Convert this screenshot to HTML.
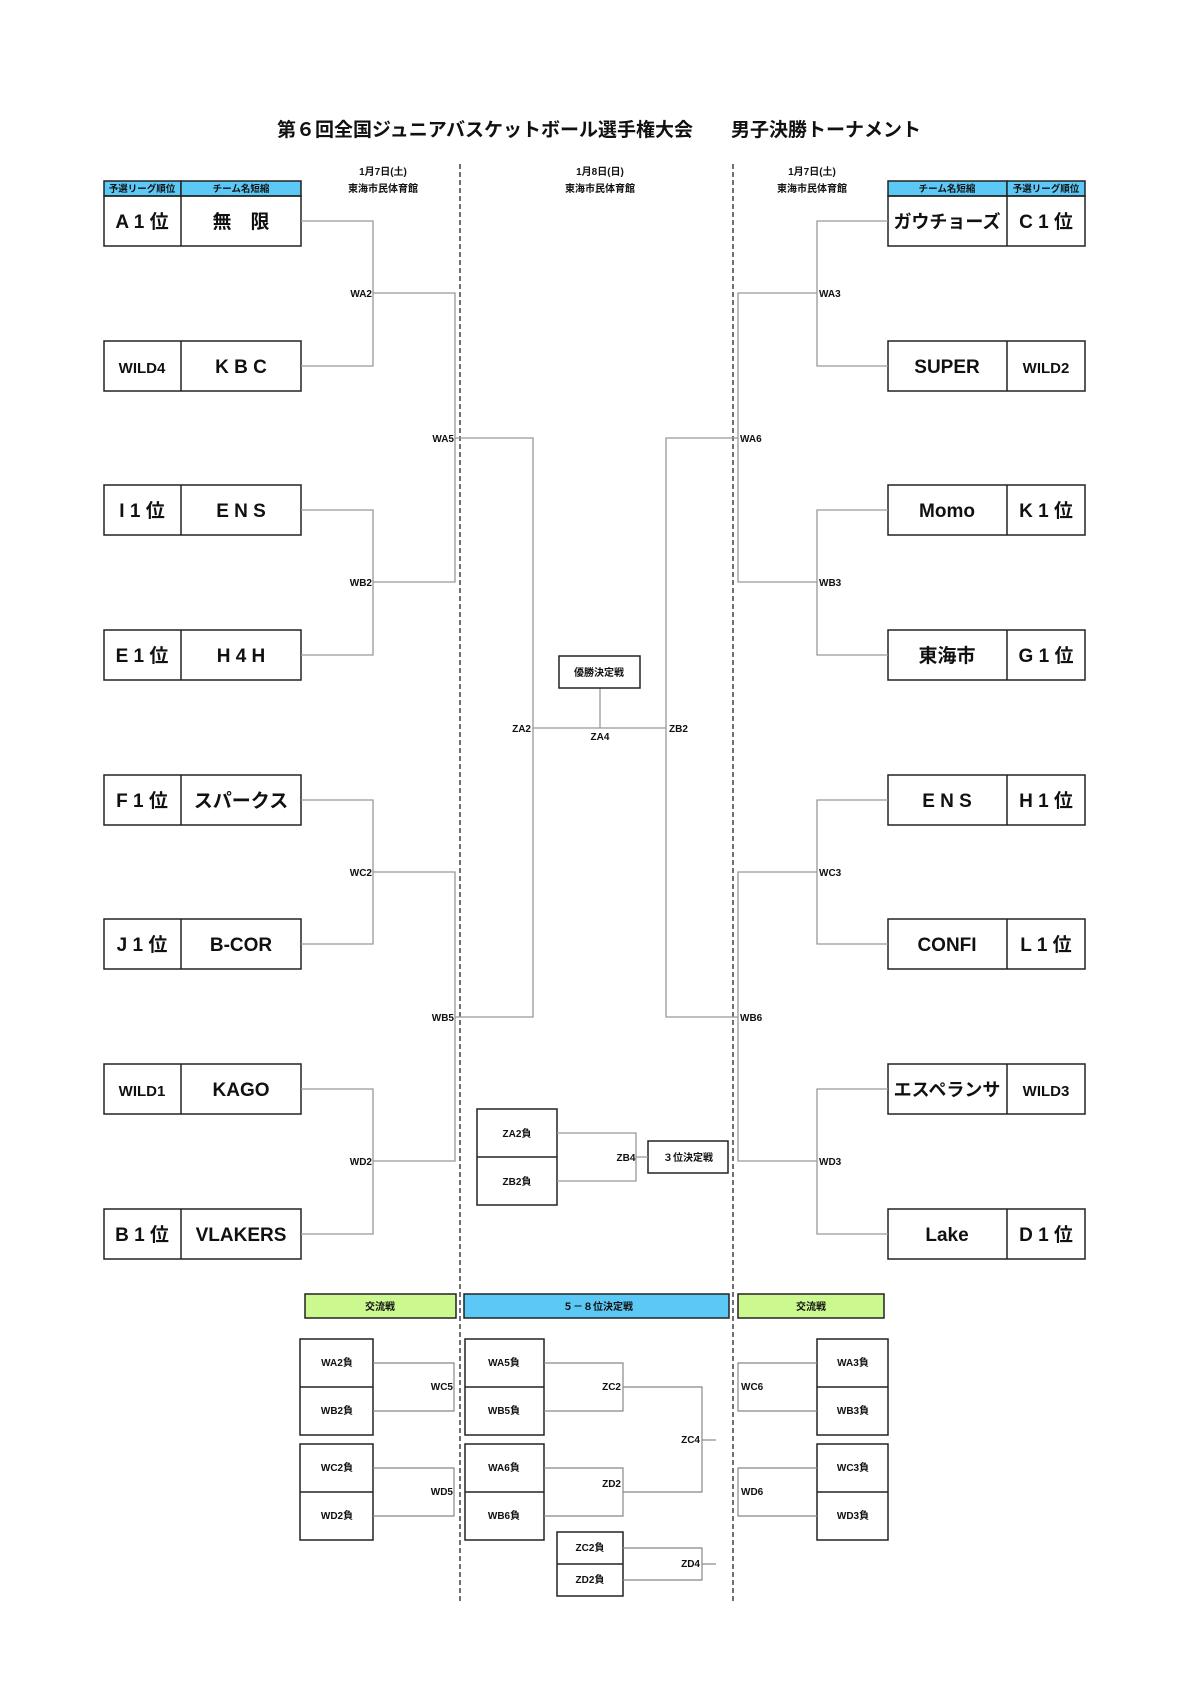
<!DOCTYPE html>
<html><head><meta charset="utf-8"><style>
html,body{margin:0;padding:0;background:#fff;}
svg{display:block;font-family:"Liberation Sans","Noto Sans CJK JP",sans-serif;font-weight:bold;}
</style></head><body>
<svg width="1190" height="1684" viewBox="0 0 1190 1684" xmlns="http://www.w3.org/2000/svg">
<text x="599" y="136" font-size="19" text-anchor="middle" fill="#111">第６回全国ジュニアバスケットボール選手権大会　　男子決勝トーナメント</text>
<g font-size="10" text-anchor="middle" fill="#111">
<text x="383" y="175">1月7日(土)</text><text x="383" y="192">東海市民体育館</text>
<text x="600" y="175">1月8日(日)</text><text x="600" y="192">東海市民体育館</text>
<text x="812" y="175">1月7日(土)</text><text x="812" y="192">東海市民体育館</text>
</g>
<g stroke="#222" stroke-width="1.3" stroke-dasharray="5,3">
<line x1="460" y1="164" x2="460" y2="1604"/><line x1="733" y1="164" x2="733" y2="1604"/>
</g>
<g stroke="#222" stroke-width="1.5">
<rect x="104" y="181" width="77" height="15" fill="#5bc8f5"/><rect x="181" y="181" width="120" height="15" fill="#5bc8f5"/>
<rect x="888" y="181" width="119" height="15" fill="#5bc8f5"/><rect x="1007" y="181" width="78" height="15" fill="#5bc8f5"/>
</g>
<g font-size="9.5" text-anchor="middle" fill="#111">
<text x="142" y="192">予選リーグ順位</text><text x="241" y="192">チーム名短縮</text>
<text x="947" y="192">チーム名短縮</text><text x="1046" y="192">予選リーグ順位</text>
</g>
<g stroke="#222" stroke-width="1.5" fill="none">
<rect x="104" y="196" width="197" height="50"/><line x1="181" y1="196" x2="181" y2="246"/>
<rect x="104" y="341" width="197" height="50"/><line x1="181" y1="341" x2="181" y2="391"/>
<rect x="104" y="485" width="197" height="50"/><line x1="181" y1="485" x2="181" y2="535"/>
<rect x="104" y="630" width="197" height="50"/><line x1="181" y1="630" x2="181" y2="680"/>
<rect x="104" y="775" width="197" height="50"/><line x1="181" y1="775" x2="181" y2="825"/>
<rect x="104" y="919" width="197" height="50"/><line x1="181" y1="919" x2="181" y2="969"/>
<rect x="104" y="1064" width="197" height="50"/><line x1="181" y1="1064" x2="181" y2="1114"/>
<rect x="104" y="1209" width="197" height="50"/><line x1="181" y1="1209" x2="181" y2="1259"/>
<rect x="888" y="196" width="197" height="50"/><line x1="1007" y1="196" x2="1007" y2="246"/>
<rect x="888" y="341" width="197" height="50"/><line x1="1007" y1="341" x2="1007" y2="391"/>
<rect x="888" y="485" width="197" height="50"/><line x1="1007" y1="485" x2="1007" y2="535"/>
<rect x="888" y="630" width="197" height="50"/><line x1="1007" y1="630" x2="1007" y2="680"/>
<rect x="888" y="775" width="197" height="50"/><line x1="1007" y1="775" x2="1007" y2="825"/>
<rect x="888" y="919" width="197" height="50"/><line x1="1007" y1="919" x2="1007" y2="969"/>
<rect x="888" y="1064" width="197" height="50"/><line x1="1007" y1="1064" x2="1007" y2="1114"/>
<rect x="888" y="1209" width="197" height="50"/><line x1="1007" y1="1209" x2="1007" y2="1259"/>
</g>
<g font-size="19" text-anchor="middle" fill="#111">
<text x="142" y="228">A 1 位</text><text x="241" y="228">無　限</text>
<text x="142" y="373" font-size="15">WILD4</text><text x="241" y="373">K B C</text>
<text x="142" y="517">I 1 位</text><text x="241" y="517">E N S</text>
<text x="142" y="662">E 1 位</text><text x="241" y="662">H 4 H</text>
<text x="142" y="807">F 1 位</text><text x="241" y="807">スパークス</text>
<text x="142" y="951">J 1 位</text><text x="241" y="951">B-COR</text>
<text x="142" y="1096" font-size="15">WILD1</text><text x="241" y="1096">KAGO</text>
<text x="142" y="1241">B 1 位</text><text x="241" y="1241">VLAKERS</text>
<text x="947" y="228" font-size="18">ガウチョーズ</text><text x="1046" y="228">C 1 位</text>
<text x="947" y="373">SUPER</text><text x="1046" y="373" font-size="15">WILD2</text>
<text x="947" y="517">Momo</text><text x="1046" y="517">K 1 位</text>
<text x="947" y="662">東海市</text><text x="1046" y="662">G 1 位</text>
<text x="947" y="807">E N S</text><text x="1046" y="807">H 1 位</text>
<text x="947" y="951">CONFI</text><text x="1046" y="951">L 1 位</text>
<text x="947" y="1096" font-size="18">エスペランサ</text><text x="1046" y="1096" font-size="15">WILD3</text>
<text x="947" y="1241">Lake</text><text x="1046" y="1241">D 1 位</text>
</g>
<g stroke="#999" stroke-width="1.3" fill="none">
<polyline points="301,221 373,221 373,366 301,366"/>
<polyline points="301,510 373,510 373,655 301,655"/>
<polyline points="301,800 373,800 373,944 301,944"/>
<polyline points="301,1089 373,1089 373,1234 301,1234"/>
<polyline points="373,293 455,293 455,582 373,582"/>
<polyline points="373,872 455,872 455,1161 373,1161"/>
<polyline points="455,438 533,438 533,1017 455,1017"/>
<line x1="533" y1="728" x2="666" y2="728"/>
<polyline points="888,221 817,221 817,366 888,366"/>
<polyline points="888,510 817,510 817,655 888,655"/>
<polyline points="888,800 817,800 817,944 888,944"/>
<polyline points="888,1089 817,1089 817,1234 888,1234"/>
<polyline points="817,293 738,293 738,582 817,582"/>
<polyline points="817,872 738,872 738,1161 817,1161"/>
<polyline points="738,438 666,438 666,1017 738,1017"/>
<line x1="600" y1="688" x2="600" y2="728"/>
</g>
<g font-size="10" fill="#111">
<g text-anchor="end">
<text x="372" y="297">WA2</text><text x="372" y="586">WB2</text><text x="372" y="876">WC2</text><text x="372" y="1165">WD2</text>
<text x="454" y="442">WA5</text><text x="454" y="1021">WB5</text><text x="531" y="732">ZA2</text>
</g>
<text x="819" y="297">WA3</text><text x="819" y="586">WB3</text><text x="819" y="876">WC3</text><text x="819" y="1165">WD3</text>
<text x="740" y="442">WA6</text><text x="740" y="1021">WB6</text><text x="669" y="732">ZB2</text>
<text x="600" y="740" text-anchor="middle">ZA4</text>
</g>
<rect x="559" y="656" width="81" height="32" fill="#fff" stroke="#222" stroke-width="1.5"/>
<text x="599" y="676" font-size="10" text-anchor="middle" fill="#111">優勝決定戦</text>
<g stroke="#222" stroke-width="1.5" fill="#fff">
<rect x="477" y="1109" width="80" height="96"/><line x1="477" y1="1157" x2="557" y2="1157"/>
<rect x="648" y="1141" width="80" height="32"/>
</g>
<polyline points="557,1133 636,1133 636,1181 557,1181" stroke="#999" stroke-width="1.3" fill="none"/>
<line x1="636" y1="1157" x2="648" y2="1157" stroke="#999" stroke-width="1.3"/>
<g font-size="10" fill="#111" text-anchor="middle">
<text x="517" y="1137">ZA2負</text><text x="517" y="1185">ZB2負</text>
<text x="688" y="1161">３位決定戦</text><text x="626" y="1161">ZB4</text>
</g>
<g stroke="#222" stroke-width="1.5">
<rect x="305" y="1294" width="151" height="24" fill="#ccf98f"/>
<rect x="464" y="1294" width="265" height="24" fill="#5bc8f5"/>
<rect x="738" y="1294" width="146" height="24" fill="#ccf98f"/>
</g>
<g font-size="10" fill="#111" text-anchor="middle">
<text x="380" y="1310">交流戦</text><text x="598" y="1310">５－８位決定戦</text><text x="811" y="1310">交流戦</text>
</g>
<g stroke="#222" stroke-width="1.5" fill="#fff">
<rect x="300" y="1339" width="73" height="96"/><line x1="300" y1="1387" x2="373" y2="1387"/>
<rect x="300" y="1444" width="73" height="96"/><line x1="300" y1="1492" x2="373" y2="1492"/>
<rect x="465" y="1339" width="79" height="96"/><line x1="465" y1="1387" x2="544" y2="1387"/>
<rect x="465" y="1444" width="79" height="96"/><line x1="465" y1="1492" x2="544" y2="1492"/>
<rect x="557" y="1532" width="66" height="64"/><line x1="557" y1="1564" x2="623" y2="1564"/>
<rect x="817" y="1339" width="71" height="96"/><line x1="817" y1="1387" x2="888" y2="1387"/>
<rect x="817" y="1444" width="71" height="96"/><line x1="817" y1="1492" x2="888" y2="1492"/>
</g>
<g stroke="#888" stroke-width="1.2" fill="none">
<polyline points="373,1363 454,1363 454,1411 373,1411"/>
<polyline points="373,1468 454,1468 454,1516 373,1516"/>
<polyline points="544,1363 623,1363 623,1411 544,1411"/>
<polyline points="544,1468 623,1468 623,1516 544,1516"/>
<polyline points="623,1387 702,1387 702,1492 623,1492"/>
<line x1="702" y1="1440" x2="716" y2="1440"/>
<polyline points="623,1548 702,1548 702,1580 623,1580"/>
<line x1="702" y1="1564" x2="716" y2="1564"/>
<polyline points="817,1363 738,1363 738,1411 817,1411"/>
<polyline points="817,1468 738,1468 738,1516 817,1516"/>
</g>
<g font-size="10" fill="#111" text-anchor="middle">
<text x="337" y="1366">WA2負</text><text x="337" y="1414">WB2負</text>
<text x="337" y="1471">WC2負</text><text x="337" y="1519">WD2負</text>
<text x="504" y="1366">WA5負</text><text x="504" y="1414">WB5負</text>
<text x="504" y="1471">WA6負</text><text x="504" y="1519">WB6負</text>
<text x="590" y="1551">ZC2負</text><text x="590" y="1583">ZD2負</text>
<text x="853" y="1366">WA3負</text><text x="853" y="1414">WB3負</text>
<text x="853" y="1471">WC3負</text><text x="853" y="1519">WD3負</text>
</g>
<g font-size="10" fill="#111">
<g text-anchor="end">
<text x="453" y="1390">WC5</text><text x="453" y="1495">WD5</text>
<text x="621" y="1390">ZC2</text><text x="621" y="1487">ZD2</text>
<text x="700" y="1443">ZC4</text><text x="700" y="1567">ZD4</text>
</g>
<text x="741" y="1390">WC6</text><text x="741" y="1495">WD6</text>
</g>
</svg>
</body></html>
